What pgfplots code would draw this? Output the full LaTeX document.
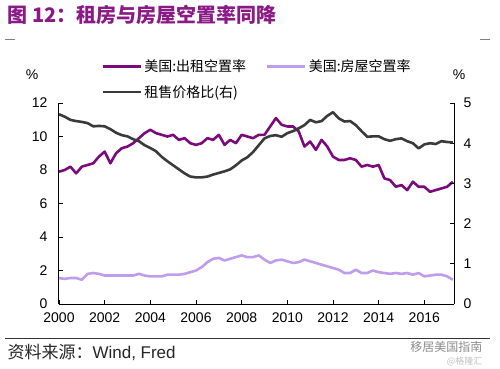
\documentclass[border=0pt]{standalone}
\usepackage{pgfplots}
\pgfplotsset{compat=1.18}
\usepackage{pgfplotstable}
\usepackage{fontspec}
\setmainfont{Liberation Sans}
\newfontfamily\cjk{Noto Sans CJK SC}
\definecolor{rentc}{HTML}{7D0A7D}
\definecolor{homec}{HTML}{C09CEE}
\definecolor{ratioc}{HTML}{3A3A3A}
\definecolor{titlec}{HTML}{8A1A86}

\pgfplotstableread{
x y
2000.00 7.9
2000.25 8.0
2000.50 8.2
2000.75 7.8
2001.00 8.2
2001.25 8.3
2001.50 8.4
2001.75 8.8
2002.00 9.1
2002.25 8.4
2002.50 9.0
2002.75 9.3
2003.00 9.4
2003.25 9.6
2003.50 9.9
2003.75 10.2
2004.00 10.4
2004.25 10.2
2004.50 10.1
2004.75 10.0
2005.00 10.1
2005.25 9.8
2005.50 9.9
2005.75 9.6
2006.00 9.5
2006.25 9.6
2006.50 9.9
2006.75 9.8
2007.00 10.1
2007.25 9.5
2007.50 9.8
2007.75 9.6
2008.00 10.1
2008.25 10.0
2008.50 9.9
2008.75 10.1
2009.00 10.1
2009.25 10.6
2009.50 11.1
2009.75 10.7
2010.00 10.6
2010.25 10.6
2010.50 10.3
2010.75 9.4
2011.00 9.7
2011.25 9.2
2011.50 9.8
2011.75 9.4
2012.00 8.8
2012.25 8.6
2012.50 8.6
2012.75 8.7
2013.00 8.6
2013.25 8.2
2013.50 8.3
2013.75 8.2
2014.00 8.3
2014.25 7.5
2014.50 7.4
2014.75 7.0
2015.00 7.1
2015.25 6.8
2015.50 7.3
2015.75 7.0
2016.00 7.0
2016.25 6.7
2016.50 6.8
2016.75 6.9
2017.00 7.0
2017.25 7.3
}\rentdata

\pgfplotstableread{
x y
2000.00 1.55
2000.25 1.5
2000.50 1.55
2000.75 1.55
2001.00 1.45
2001.25 1.8
2001.50 1.85
2001.75 1.8
2002.00 1.7
2002.25 1.7
2002.50 1.7
2002.75 1.7
2003.00 1.7
2003.25 1.7
2003.50 1.8
2003.75 1.7
2004.00 1.65
2004.25 1.65
2004.50 1.65
2004.75 1.75
2005.00 1.75
2005.25 1.75
2005.50 1.8
2005.75 1.9
2006.00 2.0
2006.25 2.2
2006.50 2.5
2006.75 2.7
2007.00 2.75
2007.25 2.6
2007.50 2.7
2007.75 2.8
2008.00 2.9
2008.25 2.8
2008.50 2.8
2008.75 2.9
2009.00 2.65
2009.25 2.45
2009.50 2.6
2009.75 2.65
2010.00 2.55
2010.25 2.45
2010.50 2.5
2010.75 2.65
2011.00 2.55
2011.25 2.45
2011.50 2.35
2011.75 2.25
2012.00 2.15
2012.25 2.05
2012.50 1.85
2012.75 1.85
2013.00 2.05
2013.25 1.85
2013.50 1.85
2013.75 2.0
2014.00 1.9
2014.25 1.85
2014.50 1.8
2014.75 1.85
2015.00 1.8
2015.25 1.85
2015.50 1.75
2015.75 1.85
2016.00 1.65
2016.25 1.7
2016.50 1.75
2016.75 1.75
2017.00 1.65
2017.25 1.45
}\homedata

\pgfplotstableread{
x y
2000.00 4.72
2000.25 4.66
2000.50 4.58
2000.75 4.55
2001.00 4.53
2001.25 4.50
2001.50 4.42
2001.75 4.43
2002.00 4.42
2002.25 4.35
2002.50 4.26
2002.75 4.20
2003.00 4.17
2003.25 4.10
2003.50 4.05
2003.75 3.95
2004.00 3.88
2004.25 3.80
2004.50 3.66
2004.75 3.55
2005.00 3.45
2005.25 3.35
2005.50 3.25
2005.75 3.17
2006.00 3.15
2006.25 3.15
2006.50 3.17
2006.75 3.22
2007.00 3.26
2007.25 3.30
2007.50 3.35
2007.75 3.45
2008.00 3.57
2008.25 3.65
2008.50 3.78
2008.75 3.95
2009.00 4.12
2009.25 4.18
2009.50 4.20
2009.75 4.16
2010.00 4.25
2010.25 4.30
2010.50 4.37
2010.75 4.45
2011.00 4.58
2011.25 4.52
2011.50 4.55
2011.75 4.68
2012.00 4.77
2012.25 4.62
2012.50 4.54
2012.75 4.55
2013.00 4.45
2013.25 4.30
2013.50 4.16
2013.75 4.17
2014.00 4.17
2014.25 4.10
2014.50 4.06
2014.75 4.10
2015.00 4.12
2015.25 4.05
2015.50 4.00
2015.75 3.87
2016.00 3.97
2016.25 4.00
2016.50 3.98
2016.75 4.05
2017.00 4.03
2017.25 4.02
}\ratiodata

\begin{document}
\begin{tikzpicture}[x=1pt,y=1pt]
\path[use as bounding box] (0,0) rectangle (500,368);

\pgfplotsset{
  every axis/.append style={
    at={(59pt,64pt)}, anchor=south west, scale only axis,
    width=395pt, height=201pt,
    xmin=2000, xmax=2017.3,
    tick align=inside, major tick length=4pt,
    every tick/.style={black, line width=0.8pt},
    axis line style={black, line width=1pt},
    ticklabel style={font=\fontsize{14}{16}\selectfont},
    /pgf/number format/assume math mode=true,
  }
}

\begin{axis}[
  axis x line*=bottom, axis y line*=left,
  ymin=0, ymax=12, ytick={0,2,...,12},
  xtick={2000,2002,...,2016},
  xticklabel style={/pgf/number format/1000 sep={}, yshift=-5pt},
  yticklabel style={xshift=-8pt},
  legend style={at={(0.1,1.235)}, anchor=north west, draw=none, fill=none,
    font=\cjk\fontsize{14}{16}\selectfont, row sep=8pt,
    /tikz/every even column/.append style={column sep=18pt}},
  legend columns=2, legend cell align=left,
  legend image code/.code={\draw[#1] (0pt,0pt) -- (38pt,0pt);},
]
\addplot[rentc, line width=2.6pt, line join=round] table[x=x,y=y] {\rentdata};
\addlegendentry{美国:出租空置率}
\addplot[homec, line width=2.6pt, line join=round] table[x=x,y=y] {\homedata};
\addlegendentry{美国:房屋空置率}
\addlegendimage{ratioc, line width=2.6pt}
\addlegendentry{租售价格比(右)}
\end{axis}

\begin{axis}[
  axis x line=none, axis y line*=right,
  ymin=0, ymax=5, ytick={0,1,...,5},
  yticklabel style={xshift=6pt},
]
\addplot[ratioc, line width=2.6pt, line join=round] table[x=x,y=y] {\ratiodata};
\end{axis}

\node[anchor=west, text=titlec, font=\cjk\bfseries\fontsize{20}{23}\selectfont] at (4,353) {图 12：租房与房屋空置率同降};
\draw[gray, line width=1pt] (5,329) -- (15,329);
\draw[gray, line width=1pt] (480,329) -- (490,329);
\node[font=\fontsize{14}{16}\selectfont] at (32,293) {\%};
\node[font=\fontsize{14}{16}\selectfont] at (459,293) {\%};
\draw[black!80, line width=0.8pt] (5,30) -- (490,30);
\node[anchor=west, font=\fontsize{17}{19}\selectfont, text=black!85] at (4,16) {{\cjk 资料来源：}Wind, Fred};
\node[anchor=east, font=\cjk\fontsize{12}{14}\selectfont, text=black!45] at (486,21) {移居美国指南};
\node[anchor=east, font=\cjk\fontsize{9}{10}\selectfont, text=black!25] at (486,7) {@格隆汇};
\end{tikzpicture}
\end{document}
